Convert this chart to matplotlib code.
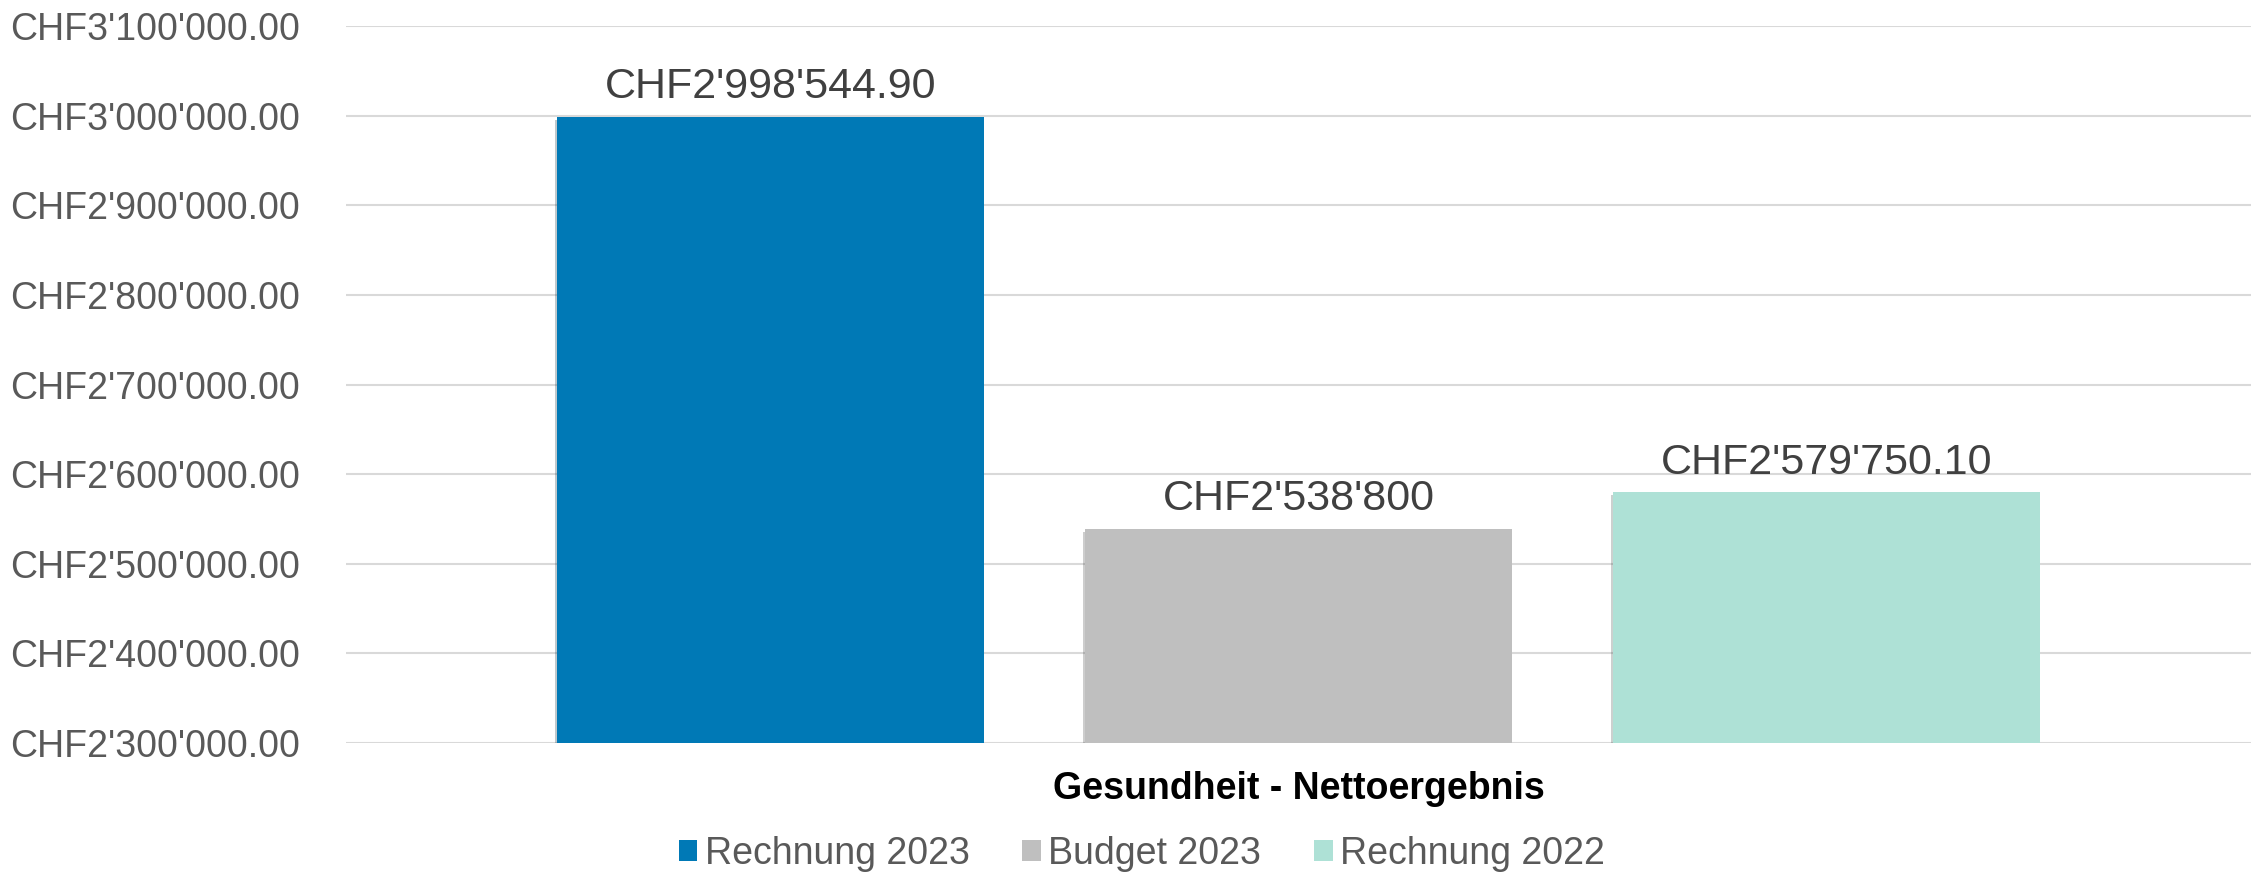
import matplotlib.pyplot as plt
import matplotlib
import matplotlib.patheffects as pe
from matplotlib.ticker import FuncFormatter
from matplotlib.patches import Patch

matplotlib.rcParams['font.family'] = ['Liberation Sans', 'DejaVu Sans']

category = 'Gesundheit - Nettoergebnis'
series = ['Rechnung 2023', 'Budget 2023', 'Rechnung 2022']
values = [2998544.90, 2538800, 2579750.10]
value_labels = ["CHF2'998'544.90", "CHF2'538'800", "CHF2'579'750.10"]
colors = ['#0079B6', '#BFBFBF', '#AEE1D6']

Y_MIN, Y_MAX, Y_STEP = 2300000, 3100000, 100000


def chf(v, pos=None):
    s = f'{v:,.2f}'.replace(',', "'")
    return 'CHF' + s


fig = plt.figure(figsize=(22.61, 8.72), dpi=100)
ax = fig.add_axes([0.153, 0.148, 0.8426, 0.822])

offset = 0.277
width = 0.224
for i, (name, val, lab, col) in enumerate(zip(series, values, value_labels, colors)):
    x = (i - 1) * offset
    ax.bar(x, val, width, color=col, zorder=3, label=name,
           path_effects=[pe.SimplePatchShadow(offset=(-1.5, -2), alpha=0.25), pe.Normal()])
    ax.annotate(lab, xy=(x, val), xytext=(0, 7), textcoords='offset points',
                ha='center', va='bottom', fontsize=31, color='#404040')

ax.set_xlim(-0.5, 0.5)
ax.set_ylim(Y_MIN, Y_MAX)
ax.set_yticks(range(Y_MIN, Y_MAX + 1, Y_STEP))
ax.yaxis.set_major_formatter(FuncFormatter(chf))
ax.set_xticks([0])
ax.set_xticklabels([category], fontsize=27, fontweight='bold', color='black')
ax.tick_params(axis='y', length=0, pad=33, labelsize=27, labelcolor='#595959')
ax.tick_params(axis='x', length=0, pad=20)
ax.grid(axis='y', color='#D9D9D9', linewidth=1.5, zorder=0)
for sp in ax.spines.values():
    sp.set_visible(False)
ax.set_axisbelow(True)

handles = [Patch(facecolor=c, label=s) for s, c in zip(series, colors)]
fig.legend(handles=handles, loc='center', bbox_to_anchor=(0.505, 0.021), ncol=3,
           frameon=False, fontsize=27, labelcolor='#595959',
           handlelength=0.5, handleheight=0.5, handletextpad=0.2, columnspacing=1.4)

plt.savefig('out.png', dpi=100)
